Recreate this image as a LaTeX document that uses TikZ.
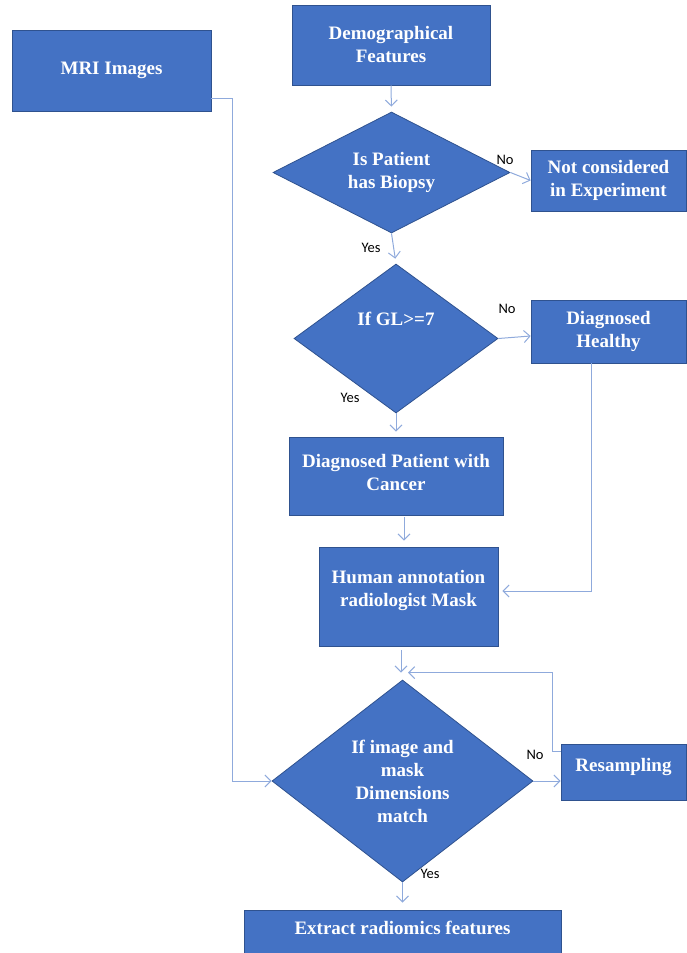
\documentclass[tikz,border=0pt]{standalone}
\usepackage{fontspec}
\setmainfont{Liberation Serif}
\newfontfamily\labfont{Carlito}
\usetikzlibrary{shapes.geometric,arrows.meta,calc}
\definecolor{boxfill}{HTML}{4472C4}
\definecolor{boxline}{HTML}{2F528F}
\definecolor{conn}{RGB}{143,170,220}
\tikzset{
  stepbox/.style={draw=boxline, fill=boxfill, line width=0.8pt, text=white,
    font=\fontsize{19}{23}\selectfont\bfseries, align=center, inner sep=0pt},
  decbox/.style={diamond, draw=boxline, fill=boxfill, line width=0.8pt, text=white,
    font=\fontsize{19}{23}\selectfont\bfseries, align=center, inner sep=0pt},
  conline/.style={draw=conn, line width=1pt, -{Straight Barb[length=6pt,width=12pt,line width=1pt]}},
  lab/.style={font=\labfont\fontsize{14.5}{16}\selectfont, text=black, inner sep=0pt},
}
\begin{document}
\begin{tikzpicture}[x=1pt,y=-1pt]
\useasboundingbox (0,0) rectangle (687,953);
% boxes
\node[stepbox, minimum width=199pt, minimum height=81pt] (mri) at (111.5,70.5) {MRI Images};
\node[stepbox, minimum width=198pt, minimum height=80pt] (demo) at (391,45) {Demographical\\Features};
\node[decbox, minimum width=237pt, minimum height=121pt] (d1) at (391.5,172.5) {};
\node[text=white, font=\fontsize{19}{23}\selectfont\bfseries, align=center, inner sep=0pt] (d1t) at (391.5,172.5) {Is Patient\\has Biopsy};
\node[stepbox, minimum width=155pt, minimum height=61pt] (notc) at (608.5,180.5) {Not considered\\in Experiment};
\node[decbox, minimum width=204pt, minimum height=149pt] (d2) at (396,338.5) {};
\node[text=white, font=\fontsize{19}{23}\selectfont\bfseries, inner sep=0pt] (d2t) at (396,319) {If GL>=7};
\node[stepbox, minimum width=155pt, minimum height=63pt] (healthy) at (608.5,331.5) {Diagnosed\\Healthy};
\node[stepbox, minimum width=214pt, minimum height=78pt] (cancer) at (396,476) {};
\node[text=white, font=\fontsize{19}{23}\selectfont\bfseries, align=center, inner sep=0pt] (cancert) at (396,472) {Diagnosed Patient with\\Cancer};
\node[stepbox, minimum width=179pt, minimum height=99pt] (human) at (408.5,596.5) {};
\node[text=white, font=\fontsize{19}{23}\selectfont\bfseries, align=center, inner sep=0pt] (humant) at (408.5,590.5) {Human annotation\\radiologist Mask};
\node[decbox, minimum width=261pt, minimum height=202pt] (d3) at (402.5,781) {If image and\\mask\\Dimensions\\match};
\node[stepbox, minimum width=125pt, minimum height=56pt] (res) at (623.5,772) {};
\node[text=white, font=\fontsize{19}{23}\selectfont\bfseries, inner sep=0pt] (rest) at (623.5,767) {Resampling};
\node[stepbox, minimum width=317pt, minimum height=46pt] (extr) at (402.5,933) {};
\node[text=white, font=\fontsize{19}{23}\selectfont\bfseries, inner sep=0pt] (extrt) at (402.5,928) {Extract radiomics features};
% labels
\node[lab] (no1) at (505,160) {No};
\node[lab] (yes1) at (371,248) {Yes};
\node[lab] (no2) at (507,309) {No};
\node[lab] (yes2) at (350,398) {Yes};
\node[lab] (no3) at (535,755) {No};
\node[lab] (yes3) at (430,874) {Yes};
% connectors
\draw[conline, shorten >=5pt] (demo.south) -- (d1.north);
\draw[conline] (d1.east) -- (notc.west);
\draw[conline, shorten >=5pt] (d1.south) -- (d2.north);
\draw[conline] (d2.east) -- ([yshift=-4.5pt]healthy.west);
\draw[conline, shorten >=5pt] (d2.south) -- (cancer.north);
\draw[conline, shorten <=2pt, shorten >=6pt] ([xshift=8pt]cancer.south) -- ([xshift=8pt]cancer.south |- human.north);
\draw[conline] ([xshift=-17.5pt]healthy.south) |- ([xshift=4pt,yshift=5.5pt]human.east);
\draw[conline, shorten <=4pt, shorten >=7pt] ([xshift=-7.5pt]human.south) -- ([xshift=-7.5pt]human.south |- d3.north);
\coordinate (loopend) at ([xshift=5.5pt,yshift=7pt]d3.north);
\draw[conline] ([yshift=21pt]res.west) -- ++(-8,0) |- (loopend);
\draw[conline] (d3.east) -- (res.west |- d3.east);
\draw[conline] ([yshift=-27.5pt]mri.east) -- ++(21,0) |- (d3.west);
\draw[conline, shorten >=7pt] (d3.south) -- (d3.south |- extr.north);
\end{tikzpicture}
\end{document}
